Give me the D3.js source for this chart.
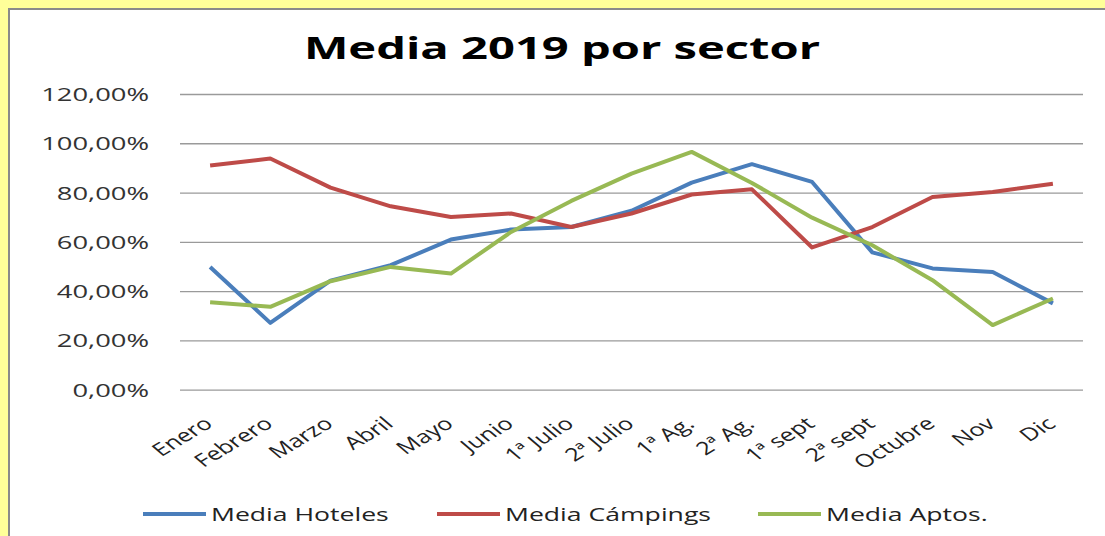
<!DOCTYPE html>
<html>
<head>
<meta charset="utf-8">
<script src="https://cdn.jsdelivr.net/npm/d3@7"></script>
<style>
  body { margin: 0; background: #ffff99; }
  svg { display: block; font-family: "Open Sans", sans-serif; }
</style>
</head>
<body>
<div id="chart"></div>
<script>
// chart data (in %)
var categories = ["Enero", "Febrero", "Marzo", "Abril", "Mayo", "Junio", "1ª Julio", "2ª Julio",
                  "1ª Ag.", "2ª Ag.", "1ª sept", "2ª sept", "Octubre", "Nov", "Dic"]
var hoteles  = [49.8, 27.1, 44.2, 50.5, 60.9, 65.0, 66.0, 72.6, 84.0, 91.5, 84.3, 55.7, 49.2, 47.7, 35.0]
var campings = [91.0, 93.8, 82.0, 74.4, 70.1, 71.5, 66.0, 71.5, 79.2, 81.3, 57.7, 66.0, 78.2, 80.2, 83.6]
var aptos    = [35.5, 33.6, 44.0, 49.8, 47.1, 64.0, 76.6, 87.7, 96.5, 83.9, 69.8, 58.6, 44.4, 26.2, 37.0]
var seriesNames = ["Media Hoteles", "Media Cámpings", "Media Aptos."]
var yTicks = [0, 20, 40, 60, 80, 100, 120]

// global layout
var svgWidth  = 1105
var svgHeight = 536
var plotLeft = 180, plotRight = 1083, plotTop = 94, plotBottom = 389.6
var SX = 1.52 // the original picture is stretched sideways, so is the text
var colors = ["#4a7ebb", "#be4b48", "#98b954"]

var svg = d3.select("#chart")
.append("svg")
.attr("width", svgWidth)
.attr("height", svgHeight)

// yellow page + white chart area with grey frame
svg.append("rect")
.attr("width", svgWidth).attr("height", svgHeight)
.attr("fill", "#ffff99")
svg.append("rect")
.attr("x", 9).attr("y", 9)
.attr("width", 1200).attr("height", 700)
.attr("fill", "white")
.attr("stroke", "#8a8a8a")
.attr("stroke-width", 2)

// title
svg.append("text")
.attr("transform", "translate(562,59) scale(" + SX + ",1)")
.attr("text-anchor", "middle")
.attr("font-weight", "bold")
.attr("font-size", 31)
.attr("fill", "#000")
.text("Media 2019 por sector")

var x = d3.scaleBand()
.domain(categories)
.range([plotLeft, plotRight])
.padding(0)

var y = d3.scaleLinear()
.domain([0, 120])
.range([plotBottom, plotTop])

function cx(i) { return x(categories[i]) + x.bandwidth() / 2 }

// y axis with gridlines
var yAxis = d3.axisLeft(y)
.tickValues(yTicks)
.tickSize(-(plotRight - plotLeft))
.tickPadding(0)
.tickFormat(function(d){ return d3.format(".2f")(d).replace(".", ",") + "%" })

var gy = svg.append("g")
.attr("transform", "translate(" + plotLeft + ",0)")
.call(yAxis)
gy.select(".domain").remove()
gy.selectAll(".tick line")
.attr("stroke", "#9a9a9a")
.attr("stroke-width", 1.3)
gy.selectAll(".tick text")
.attr("x", 0).attr("dy", null)
.attr("transform", "translate(-31,6.5) scale(" + SX + ",1)")
.attr("font-size", 18)
.attr("font-family", "Open Sans")
.attr("fill", "#333")

// x axis labels (rotated)
var xAxis = d3.axisBottom(x)
.tickSize(0)
.tickPadding(0)

var gx = svg.append("g")
.attr("transform", "translate(0," + plotBottom + ")")
.call(xAxis)
gx.select(".domain").remove()
gx.selectAll(".tick text")
.attr("y", 0).attr("dy", null)
.attr("text-anchor", "end")
.attr("transform", "translate(4,36) scale(1.4,1) rotate(-40)")
.attr("font-size", 18)
.attr("font-family", "Open Sans")
.attr("fill", "#222")

// lines
var allSeries = [hoteles, campings, aptos]
var line = d3.line()
.x(function(d, i){ return cx(i) })
.y(function(d){ return y(d) })

svg.selectAll(".serie")
.data(allSeries)
.enter()
.append("path")
.attr("class", "serie")
.attr("d", line)
.attr("fill", "none")
.attr("stroke", function(d, i){ return colors[i] })
.attr("stroke-width", 4)
.attr("stroke-linejoin", "round")

// legend
var legendX = [143, 437, 758]
var legend = svg.selectAll(".legend")
.data(seriesNames)
.enter()
.append("g")
.attr("class", "legend")
.attr("transform", function(d, i){ return "translate(" + legendX[i] + ",514)" })

legend.append("line")
.attr("x1", 0).attr("x2", 63)
.attr("stroke", function(d, i){ return colors[i] })
.attr("stroke-width", 4)

legend.append("text")
.attr("transform", "translate(68,6.5) scale(" + SX + ",1)")
.attr("font-size", 17.5)
.attr("fill", "#222")
.text(function(d){ return d })
</script>
</body>
</html>
